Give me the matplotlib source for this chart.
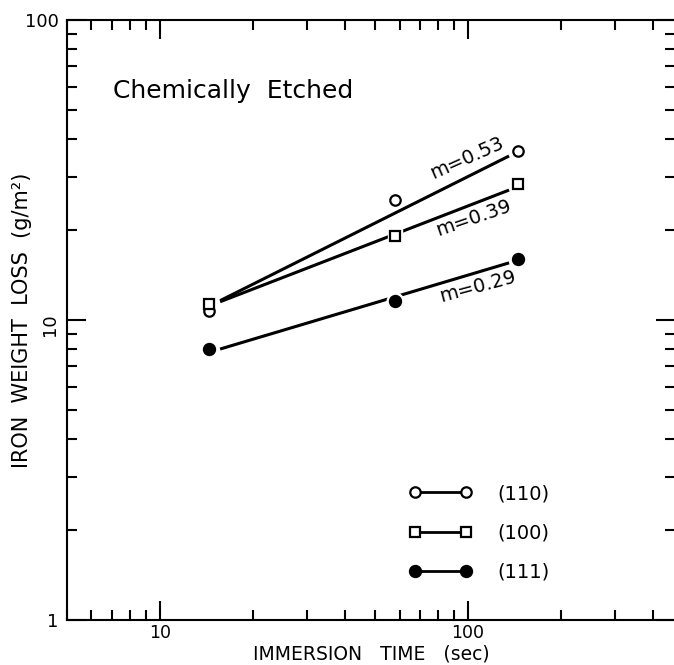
import numpy as np
import matplotlib.pyplot as plt
from matplotlib.lines import Line2D
from matplotlib.ticker import LogLocator, NullFormatter

# measured points (immersion time in sec, weight loss in g/m2)
times    = [14.5, 58, 145]
loss_110 = [10.7, 25.1, 36.6]
loss_100 = [11.3, 19.1, 28.4]
loss_111 = [8.0, 11.6, 16.0]

# end points of the fitted straight lines
fit_times = [15.7, 136]
fit_110   = [11.6, 35.2]
fit_100   = [11.5, 27.1]
fit_111   = [8.0, 15.5]

slope_labels  = ["m=0.53", "m=0.39", "m=0.29"]
series_labels = ["(110)", "(100)", "(111)"]

x_ticks       = [10, 100]
x_tick_labels = ["10", "100"]
y_ticks       = [1, 10, 100]
y_tick_labels = ["1", "10", "100"]

fig = plt.figure(figsize=(6.74, 6.65), dpi=100)
ax  = fig.add_axes([0.0994, 0.0677, 0.9021, 0.9023])
ax.set_xscale("log")
ax.set_yscale("log")

series = [
    (loss_110, fit_110, "o", 7.5, "white"),
    (loss_100, fit_100, "s", 6.5, "white"),
    (loss_111, fit_111, "o", 8.0, "black"),
]

for loss, fit, marker, size, face in series:
    ax.plot(fit_times, fit, color="black", lw=2.2, solid_capstyle="butt", zorder=2)

# white halo so the lines break around the markers
for loss, fit, marker, size, face in series:
    ax.plot(times, loss, ls="none", marker=marker, ms=size + 4,
            mfc="white", mec="white", zorder=3)

for loss, fit, marker, size, face in series:
    ax.plot(times, loss, ls="none", marker=marker, ms=size,
            mfc=face, mec="black", mew=1.6, zorder=4)

# slope annotations
ax.text(99, 34.7, slope_labels[0], rotation=24, fontsize=14,
        ha="center", va="center", rotation_mode="anchor")
ax.text(104, 21.9, slope_labels[1], rotation=19, fontsize=14,
        ha="center", va="center", rotation_mode="anchor")
ax.text(108, 12.9, slope_labels[2], rotation=15, fontsize=14,
        ha="center", va="center", rotation_mode="anchor")

ax.text(0.0757, 0.882, "Chemically  Etched", transform=ax.transAxes,
        fontsize=18, ha="left", va="center")

handles = [
    Line2D([], [], color="black", lw=2, marker=m, ms=s, mfc=f, mec="black", mew=1.6)
    for _, _, m, s, f in series
]
ax.legend(handles, series_labels, loc="center", bbox_to_anchor=(0.678, 0.145),
          frameon=False, numpoints=2, handlelength=3.27, handletextpad=1.3,
          labelspacing=1.05, fontsize=14, borderpad=0)

ax.set_xlim(5, 470)
ax.set_ylim(1, 100)
ax.set_xticks(x_ticks)
ax.set_xticklabels(x_tick_labels)
ax.set_yticks(y_ticks)
ax.set_yticklabels(y_tick_labels)
ax.xaxis.set_minor_locator(LogLocator(base=10, subs=np.arange(2, 10)))
ax.yaxis.set_minor_locator(LogLocator(base=10, subs=np.arange(2, 10)))
ax.xaxis.set_minor_formatter(NullFormatter())
ax.yaxis.set_minor_formatter(NullFormatter())

ax.tick_params(which="both", direction="in", top=True, right=True, width=1.5)
ax.tick_params(which="major", length=14)
ax.tick_params(which="minor", length=7)
ax.tick_params(axis="x", pad=3, labelsize=12.5)
ax.tick_params(axis="y", pad=6, labelsize=13)
ax.get_yticklabels()[1].set_rotation(90)

for sp in ax.spines.values():
    sp.set_linewidth(1.5)

ax.set_xlabel("IMMERSION   TIME   (sec)", fontsize=13.5, va="top")
ax.xaxis.set_label_coords(0.5, -0.041)
ax.set_ylabel("IRON  WEIGHT  LOSS  (g/m²)", fontsize=15, va="center")
ax.yaxis.set_label_coords(-0.074, 0.5)

fig.savefig("out.png", dpi=100)
